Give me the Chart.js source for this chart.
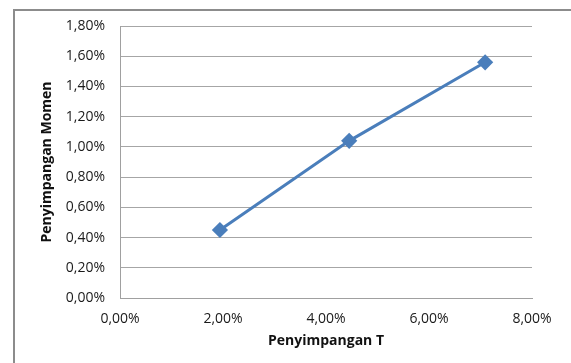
<!DOCTYPE html>
<html>
<head>
<meta charset="utf-8">
<script src="https://cdn.jsdelivr.net/npm/chart.js@4"></script>
<style>
  html, body { margin: 0; padding: 0; background: #fff; }
  #wrap { position: relative; width: 571px; height: 363px; overflow: hidden; }
  #frame { position: absolute; left: 13px; top: 9px; width: 600px; height: 400px;
           border-left: 2px solid #8c8c8c; border-top: 2px solid #8c8c8c; }
  #c { position: absolute; left: 0; top: 0; }
</style>
</head>
<body>
<div id="wrap">
  <div id="frame"></div>
  <canvas id="c" width="571" height="363"></canvas>
</div>
<script>
// Deviation in T (%) vs deviation in moment (%)
const penyimpanganT = [1.94, 4.45, 7.09];
const penyimpanganMomen = [0.45, 1.04, 1.56];
const xTicks = [0, 2, 4, 6, 8];
const yTicks = [0, 0.2, 0.4, 0.6, 0.8, 1.0, 1.2, 1.4, 1.6, 1.8];

const fmt = v => v.toFixed(2).replace('.', ',') + '%';
const points = penyimpanganT.map((x, i) => ({ x: x, y: penyimpanganMomen[i] }));

const tickFont = { family: 'Open Sans', size: 14 };
const titleFont = { family: 'Open Sans', size: 14, weight: 'bold' };

new Chart(document.getElementById('c'), {
  type: 'scatter',
  data: {
    datasets: [{
      data: points,
      showLine: true,
      borderColor: '#4A7EBB',
      backgroundColor: '#4A7EBB',
      borderWidth: 3,
      pointStyle: 'rectRot',
      pointRadius: 6,
      pointHoverRadius: 6
    }]
  },
  options: {
    responsive: false,
    animation: false,
    layout: { padding: { top: 26, right: 39, left: 35, bottom: 0 } },
    plugins: { legend: { display: false }, tooltip: { enabled: false } },
    scales: {
      x: {
        type: 'linear',
        min: 0, max: 8,
        afterBuildTicks: s => { s.ticks = xTicks.map(v => ({ value: v })); },
        afterFit: s => { s.height = 65; },
        grid: { display: false, drawTicks: false },
        border: { display: true, color: '#a0a0a0', width: 1 },
        ticks: { callback: v => fmt(v), color: '#1a1a1a', font: tickFont, padding: 13, maxRotation: 0 },
        title: { display: true, text: 'Penyimpangan T', color: '#111', font: titleFont, padding: { top: 4, bottom: 14 } }
      },
      y: {
        type: 'linear',
        min: 0, max: 1.8,
        afterBuildTicks: s => { s.ticks = yTicks.map(v => ({ value: v })); },
        afterFit: s => { s.width = 85; },
        grid: { color: '#a6a6a6', lineWidth: 1, drawTicks: false },
        border: { display: true, color: '#a0a0a0', width: 1 },
        ticks: { callback: v => fmt(v), color: '#1a1a1a', font: tickFont, padding: 15 },
        title: { display: true, text: 'Penyimpangan Momen', color: '#111', font: titleFont, padding: { top: 4, bottom: 0 } }
      }
    }
  }
});
</script>
</body>
</html>
